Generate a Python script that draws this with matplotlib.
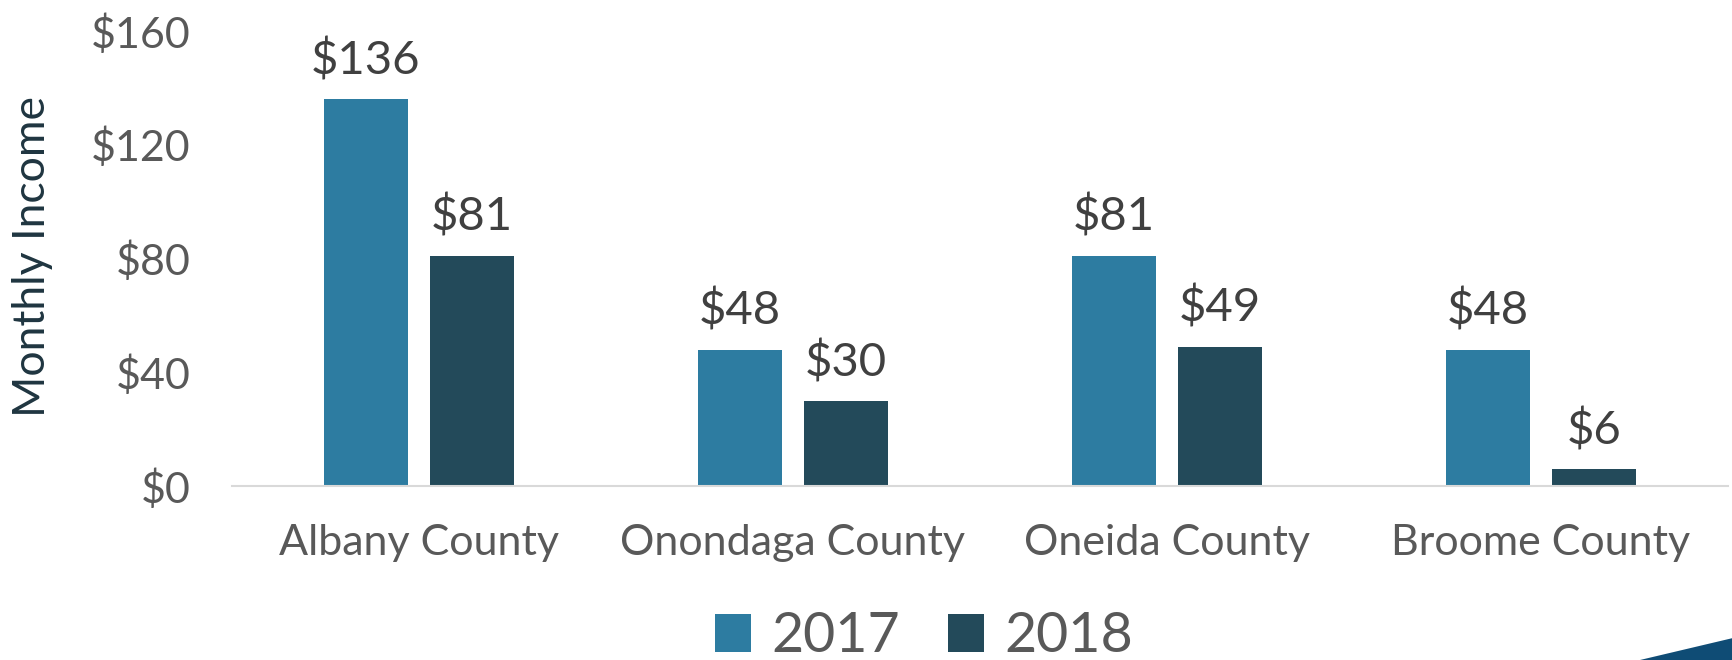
import numpy as np
import matplotlib.pyplot as plt
from matplotlib.patches import Polygon

# -------------------------------------------------------------------------
# Dados
# -------------------------------------------------------------------------
counties = ["Albany County", "Onondaga County", "Oneida County", "Broome County"]
income_2017 = [136, 48, 81, 48]
income_2018 = [81, 30, 49, 6]
series_labels = ["2017", "2018"]
y_ticks = [0, 40, 80, 120, 160]

COLOR_2017 = "#2D7CA1"
COLOR_2018 = "#234A5A"
TEXT_GRAY = "#595959"

plt.rcParams["font.family"] = ["Lato", "DejaVu Sans"]

fig = plt.figure(figsize=(17.33, 6.6), dpi=100)
ax = fig.add_axes([232 / 1733, 174 / 660, 1496 / 1733, 455 / 660])

x = np.arange(len(counties))
width = 0.225
offset = 0.142

bars1 = ax.bar(x - offset, income_2017, width, color=COLOR_2017, label=series_labels[0])
bars2 = ax.bar(x + offset, income_2018, width, color=COLOR_2018, label=series_labels[1])

for bars in (bars1, bars2):
    for b in bars:
        ax.annotate(f"${b.get_height():.0f}",
                    (b.get_x() + b.get_width() / 2, b.get_height()),
                    xytext=(0, 12), textcoords="offset points",
                    ha="center", va="bottom", fontsize=34, color="#404040",
                    clip_on=False)

ax.set_xlim(-0.5, len(counties) - 0.5)
ax.set_ylim(0, 160)
ax.set_yticks(y_ticks)
ax.set_yticklabels([f"${v}" for v in y_ticks])
ax.set_xticks(x)
ax.set_xticklabels(counties)

ax.tick_params(axis="y", length=0, pad=30, labelsize=31, labelcolor=TEXT_GRAY)
ax.tick_params(axis="x", length=0, pad=27, labelsize=31, labelcolor=TEXT_GRAY)

for side in ("top", "right", "left"):
    ax.spines[side].set_visible(False)
ax.spines["bottom"].set_color("#D9D9D9")
ax.spines["bottom"].set_linewidth(1.5)

fig.text(33 / 1733, 1 - 256 / 660, "Monthly Income", rotation=90,
         ha="center", va="center", fontsize=32, color="#1F3540")

fig.legend(loc="center", bbox_to_anchor=(924 / 1733, 1 - 637 / 660), ncol=2,
           frameon=False, fontsize=40, labelcolor=TEXT_GRAY,
           handlelength=0.65, handleheight=0.65, handletextpad=0.36,
           columnspacing=0.86, borderpad=0.1)

# detalhe decorativo no canto inferior direito
fig.patches.append(Polygon([[1640 / 1733, 0], [1733 / 1733, 0],
                            [1733 / 1733, 22 / 660]],
                           closed=True, transform=fig.transFigure,
                           facecolor="#0F4C75", edgecolor="none"))

fig.savefig("out.png", dpi=100)
